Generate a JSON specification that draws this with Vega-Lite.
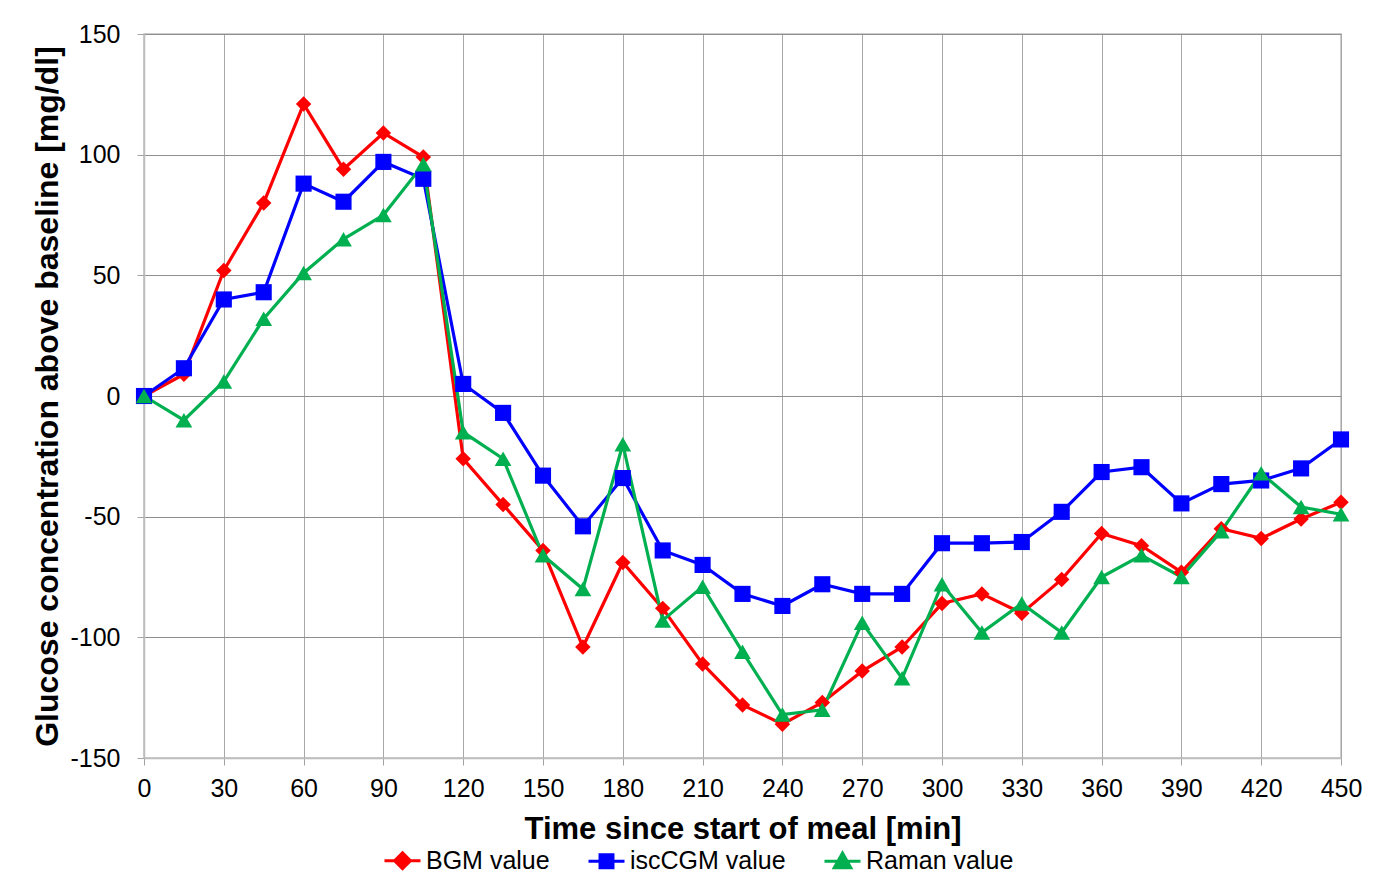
{
  "$schema": "https://vega.github.io/schema/vega-lite/v6.json",
  "width": 1197,
  "height": 724,
  "autosize": {"type": "none"},
  "padding": {"left": 144, "top": 34, "right": 46, "bottom": 128},
  "background": "white",
  "config": {
    "font": "Liberation Sans",
    "view": {"stroke": "#bdbdbd", "strokeWidth": 1.5}
  },
  "datasets": {
    "glucose": [
      {"t": 0, "series": "BGM value", "v": 0},
      {"t": 15, "series": "BGM value", "v": 9},
      {"t": 30, "series": "BGM value", "v": 52},
      {"t": 45, "series": "BGM value", "v": 80},
      {"t": 60, "series": "BGM value", "v": 121},
      {"t": 75, "series": "BGM value", "v": 94},
      {"t": 90, "series": "BGM value", "v": 109},
      {"t": 105, "series": "BGM value", "v": 99},
      {"t": 120, "series": "BGM value", "v": -26},
      {"t": 135, "series": "BGM value", "v": -45},
      {"t": 150, "series": "BGM value", "v": -64},
      {"t": 165, "series": "BGM value", "v": -104},
      {"t": 180, "series": "BGM value", "v": -69},
      {"t": 195, "series": "BGM value", "v": -88},
      {"t": 210, "series": "BGM value", "v": -111},
      {"t": 225, "series": "BGM value", "v": -128},
      {"t": 240, "series": "BGM value", "v": -136},
      {"t": 255, "series": "BGM value", "v": -127},
      {"t": 270, "series": "BGM value", "v": -114},
      {"t": 285, "series": "BGM value", "v": -104},
      {"t": 300, "series": "BGM value", "v": -86},
      {"t": 315, "series": "BGM value", "v": -82},
      {"t": 330, "series": "BGM value", "v": -90},
      {"t": 345, "series": "BGM value", "v": -76},
      {"t": 360, "series": "BGM value", "v": -57},
      {"t": 375, "series": "BGM value", "v": -62},
      {"t": 390, "series": "BGM value", "v": -73},
      {"t": 405, "series": "BGM value", "v": -55},
      {"t": 420, "series": "BGM value", "v": -59},
      {"t": 435, "series": "BGM value", "v": -51},
      {"t": 450, "series": "BGM value", "v": -44},
      {"t": 0, "series": "iscCGM value", "v": 0},
      {"t": 15, "series": "iscCGM value", "v": 11.5},
      {"t": 30, "series": "iscCGM value", "v": 40},
      {"t": 45, "series": "iscCGM value", "v": 43},
      {"t": 60, "series": "iscCGM value", "v": 88},
      {"t": 75, "series": "iscCGM value", "v": 80.5},
      {"t": 90, "series": "iscCGM value", "v": 97},
      {"t": 105, "series": "iscCGM value", "v": 90},
      {"t": 120, "series": "iscCGM value", "v": 5},
      {"t": 135, "series": "iscCGM value", "v": -7},
      {"t": 150, "series": "iscCGM value", "v": -33},
      {"t": 165, "series": "iscCGM value", "v": -54},
      {"t": 180, "series": "iscCGM value", "v": -34},
      {"t": 195, "series": "iscCGM value", "v": -64},
      {"t": 210, "series": "iscCGM value", "v": -70},
      {"t": 225, "series": "iscCGM value", "v": -82},
      {"t": 240, "series": "iscCGM value", "v": -87},
      {"t": 255, "series": "iscCGM value", "v": -78},
      {"t": 270, "series": "iscCGM value", "v": -82},
      {"t": 285, "series": "iscCGM value", "v": -82},
      {"t": 300, "series": "iscCGM value", "v": -61},
      {"t": 315, "series": "iscCGM value", "v": -61},
      {"t": 330, "series": "iscCGM value", "v": -60.5},
      {"t": 345, "series": "iscCGM value", "v": -48},
      {"t": 360, "series": "iscCGM value", "v": -31.5},
      {"t": 375, "series": "iscCGM value", "v": -29.5},
      {"t": 390, "series": "iscCGM value", "v": -44.5},
      {"t": 405, "series": "iscCGM value", "v": -36.5},
      {"t": 420, "series": "iscCGM value", "v": -35},
      {"t": 435, "series": "iscCGM value", "v": -30},
      {"t": 450, "series": "iscCGM value", "v": -18},
      {"t": 0, "series": "Raman value", "v": 0},
      {"t": 15, "series": "Raman value", "v": -10},
      {"t": 30, "series": "Raman value", "v": 6},
      {"t": 45, "series": "Raman value", "v": 32},
      {"t": 60, "series": "Raman value", "v": 51},
      {"t": 75, "series": "Raman value", "v": 65},
      {"t": 90, "series": "Raman value", "v": 75},
      {"t": 105, "series": "Raman value", "v": 96},
      {"t": 120, "series": "Raman value", "v": -15},
      {"t": 135, "series": "Raman value", "v": -26},
      {"t": 150, "series": "Raman value", "v": -66},
      {"t": 165, "series": "Raman value", "v": -80},
      {"t": 180, "series": "Raman value", "v": -20},
      {"t": 195, "series": "Raman value", "v": -93},
      {"t": 210, "series": "Raman value", "v": -79},
      {"t": 225, "series": "Raman value", "v": -106},
      {"t": 240, "series": "Raman value", "v": -132},
      {"t": 255, "series": "Raman value", "v": -130},
      {"t": 270, "series": "Raman value", "v": -94},
      {"t": 285, "series": "Raman value", "v": -117},
      {"t": 300, "series": "Raman value", "v": -78},
      {"t": 315, "series": "Raman value", "v": -98},
      {"t": 330, "series": "Raman value", "v": -86},
      {"t": 345, "series": "Raman value", "v": -98},
      {"t": 360, "series": "Raman value", "v": -75},
      {"t": 375, "series": "Raman value", "v": -66},
      {"t": 390, "series": "Raman value", "v": -75},
      {"t": 405, "series": "Raman value", "v": -56},
      {"t": 420, "series": "Raman value", "v": -32},
      {"t": 435, "series": "Raman value", "v": -46},
      {"t": 450, "series": "Raman value", "v": -49}
    ]
  },
  "data": {"name": "glucose"},
  "encoding": {
    "x": {
      "field": "t",
      "type": "quantitative",
      "scale": {"domain": [0, 450], "nice": false, "zero": false},
      "axis": {
        "title": "Time since start of meal [min]",
        "values": [0, 30, 60, 90, 120, 150, 180, 210, 240, 270, 300, 330, 360, 390, 420, 450],
        "labelExpr": "'' + datum.value",
        "grid": true,
        "gridColor": "#a8a8a8",
        "gridWidth": 1,
        "domainColor": "#bdbdbd",
        "domainWidth": 1.5,
        "tickColor": "#a3a3a3",
        "tickSize": 7,
        "labelFontSize": 25,
        "labelColor": "#000000",
        "labelPadding": 11,
        "labelFlush": false,
        "titleFontSize": 31,
        "titleFontWeight": "bold",
        "titleColor": "#000000",
        "titlePadding": 13
      }
    },
    "y": {
      "field": "v",
      "type": "quantitative",
      "scale": {"domain": [-150, 150], "nice": false, "zero": false},
      "axis": {
        "title": "Glucose concentration above baseline [mg/dl]",
        "values": [-150, -100, -50, 0, 50, 100, 150],
        "labelExpr": "'' + datum.value",
        "grid": true,
        "gridColor": "#8f8f8f",
        "gridWidth": 1,
        "domainColor": "#bdbdbd",
        "domainWidth": 1.5,
        "tickColor": "#a3a3a3",
        "tickSize": 7,
        "labelFontSize": 25,
        "labelColor": "#000000",
        "labelPadding": 17,
        "labelFlush": false,
        "titleFontSize": 32,
        "titleFontWeight": "bold",
        "titleColor": "#000000",
        "titlePadding": 5
      }
    },
    "color": {
      "field": "series",
      "type": "nominal",
      "scale": {
        "domain": ["BGM value", "iscCGM value", "Raman value"],
        "range": ["#ff0000", "#0000ff", "#00b050"]
      },
      "legend": {
        "title": null,
        "orient": "none",
        "direction": "horizontal",
        "legendX": 239,
        "legendY": 807,
        "labelFontSize": 25,
        "labelColor": "#000000",
        "labelOffset": 4,
        "symbolSize": 1296,
        "symbolStrokeWidth": 3,
        "columnPadding": 32,
        "encode": {
          "symbols": {
            "update": {
              "shape": {"signal": "datum.value === 'BGM value' ? 'M-1,0H1M0,-0.44L0.44,0L0,0.44L-0.44,0Z' : datum.value === 'iscCGM value' ? 'M-1,0H1M-0.36,-0.36H0.36V0.36H-0.36Z' : 'M-1,0H1M0,-0.46L0.46,0.36H-0.46Z'"},
              "fill": {"signal": "scale('color', datum.value)"},
              "stroke": {"signal": "scale('color', datum.value)"},
              "strokeWidth": {"value": 3},
              "opacity": {"value": 1},
              "size": {"value": 1296}
            }
          }
        }
      }
    }
  },
  "layer": [
    {
      "mark": {"type": "line", "strokeWidth": 3.2},
      "encoding": {"order": {"field": "t", "type": "quantitative"}}
    },
    {
      "transform": [{"filter": "datum.series === 'BGM value'"}],
      "mark": {"type": "point", "filled": true, "opacity": 1, "shape": "diamond", "size": 240}
    },
    {
      "transform": [{"filter": "datum.series === 'iscCGM value'"}],
      "mark": {"type": "point", "filled": true, "opacity": 1, "shape": "square", "size": 260}
    },
    {
      "transform": [{"filter": "datum.series === 'Raman value'"}],
      "mark": {"type": "point", "filled": true, "opacity": 1, "shape": "triangle-up", "size": 280}
    }
  ]
}
